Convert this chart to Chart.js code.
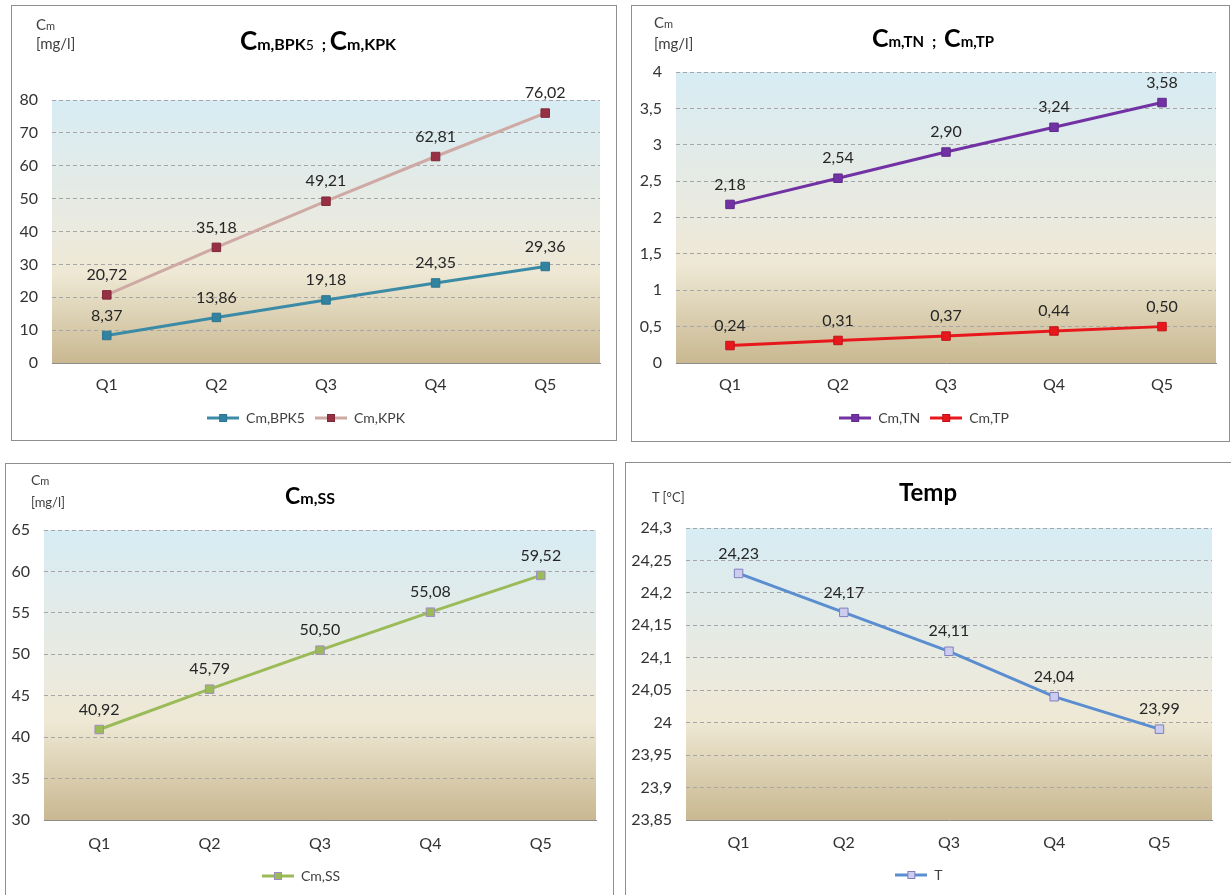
<!DOCTYPE html>
<html>
<head>
<meta charset="utf-8">
<script src="https://cdn.jsdelivr.net/npm/chart.js@4.4.1/dist/chart.umd.min.js"></script>
<style>
body { margin:0; background:#fff; width:1231px; height:895px; overflow:hidden; position:relative; font-family:Lato, sans-serif; }
.box { position:absolute; border:1px solid #8e8e8e; background:#fff; }
.box canvas { position:absolute; left:0; top:0; }
.title { position:absolute; transform:translate(-50%,-50%); font-weight:bold; white-space:nowrap; color:#000; line-height:1; }
.title .c { font-size:26px; }
.title .s { font-size:16px; }
.title .n { font-size:14px; font-weight:normal; }
.unit { position:absolute; font-size:15px; color:#404040; line-height:16px; white-space:nowrap; }
.unit small { font-size:11px; }
</style>
</head>
<body>

<div class="box" style="left:11px;top:5px;width:604px;height:434px"><canvas id="orgChart" width="604" height="434"></canvas></div>
<div class="box" style="left:631px;top:5px;width:597px;height:435px"><canvas id="nutChart" width="597" height="435"></canvas></div>
<div class="box" style="left:5px;top:463px;width:607px;height:436px"><canvas id="ssChart" width="607" height="436"></canvas></div>
<div class="box" style="left:625px;top:462px;width:605px;height:437px"><canvas id="tempChart" width="605" height="437"></canvas></div>

<div class="title" style="left:318px;top:40px"><span class="c">C</span><span class="s">m,BPK</span><span class="n">5</span>&nbsp; ; <span class="c">C</span><span class="s">m,KPK</span></div>
<div class="title" style="left:933px;top:37px"><span class="c" style="font-size:25px">C</span><span class="s" style="font-size:15px">m,TN</span>&nbsp; ;&nbsp; <span class="c" style="font-size:25px">C</span><span class="s" style="font-size:15px">m,TP</span></div>
<div class="title" style="left:310px;top:495px"><span class="c" style="font-size:23px">C</span><span class="s" style="font-size:16px">m,SS</span></div>
<div class="title" style="left:928px;top:492px;font-size:24px">Temp</div>

<div class="unit" style="left:36px;top:16px">C<small>m</small></div>
<div class="unit" style="left:36px;top:35px">[mg/l]</div>
<div class="unit" style="left:654px;top:14px">C<small>m</small></div>
<div class="unit" style="left:654px;top:35px">[mg/l]</div>
<div class="unit" style="left:31px;top:472px;font-size:14px">C<small>m</small></div>
<div class="unit" style="left:31px;top:494px;font-size:13px">[mg/l]</div>
<div class="unit" style="left:652px;top:489px;font-size:13px">T [°C]</div>

<script>
const quarters = ['Q1', 'Q2', 'Q3', 'Q4', 'Q5'];

const bpk5 = [8.37, 13.86, 19.18, 24.35, 29.36];
const kpk = [20.72, 35.18, 49.21, 62.81, 76.02];
const tn = [2.18, 2.54, 2.90, 3.24, 3.58];
const tp = [0.24, 0.31, 0.37, 0.44, 0.50];
const ss = [40.92, 45.79, 50.50, 55.08, 59.52];
const temp = [24.23, 24.17, 24.11, 24.04, 23.99];

// y axis: min, max, step
const axisOrg = [0, 80, 10];
const axisNut = [0, 4, 0.5];
const axisSs = [30, 65, 5];
const axisTemp = [23.85, 24.3, 0.05];

Chart.defaults.font.family = 'Lato, sans-serif';
Chart.defaults.color = '#404040';

// decimal comma, like the original sheet
function tickText(v) {
    return String(parseFloat(v.toFixed(2))).replace('.', ',');
}

// plot area background: light blue on top, sand at the bottom
const plotBg = {
    id: 'plotBg',
    beforeDraw(chart) {
        const { ctx, chartArea: a } = chart;
        const g = ctx.createLinearGradient(0, a.top, 0, a.bottom);
        g.addColorStop(0, '#d7ecf4');
        g.addColorStop(0.5, '#ebeadf');
        g.addColorStop(0.66, '#eee8d4');
        g.addColorStop(1, '#c9b891');
        ctx.save();
        ctx.fillStyle = g;
        ctx.fillRect(a.left, a.top, a.right - a.left, a.bottom - a.top);
        ctx.restore();
    }
};

// value above every marker
const valueLabels = {
    id: 'valueLabels',
    afterDatasetsDraw(chart) {
        const ctx = chart.ctx;
        ctx.save();
        ctx.font = '16px Lato, sans-serif';
        ctx.fillStyle = '#262626';
        ctx.textAlign = 'center';
        ctx.textBaseline = 'middle';
        chart.data.datasets.forEach((ds, i) => {
            chart.getDatasetMeta(i).data.forEach((pt, j) => {
                ctx.fillText(ds.data[j].toFixed(2).replace('.', ','), pt.x, pt.y - 20);
            });
        });
        ctx.restore();
    }
};

// line with a square in the middle, as in the Excel legend
function legendIcon(ds) {
    const c = document.createElement('canvas');
    c.width = 32;
    c.height = 12;
    const x = c.getContext('2d');
    x.strokeStyle = ds.borderColor;
    x.lineWidth = 3;
    x.beginPath();
    x.moveTo(0, 6);
    x.lineTo(32, 6);
    x.stroke();
    x.fillStyle = ds.pointBackgroundColor;
    x.fillRect(12, 2, 8, 8);
    x.strokeStyle = ds.pointBorderColor;
    x.lineWidth = 1;
    x.strokeRect(12.5, 2.5, 7, 7);
    return c;
}

function series(label, data, line, fill, edge) {
    return {
        label: label,
        data: data,
        borderColor: line,
        borderWidth: 3,
        tension: 0,
        pointStyle: 'rect',
        pointRadius: 6,
        pointHoverRadius: 6,
        pointBackgroundColor: fill,
        pointBorderColor: edge,
        pointBorderWidth: 1
    };
}

function drawChart(id, datasets, axis, lay) {
    return new Chart(document.getElementById(id), {
        type: 'line',
        data: { labels: quarters, datasets: datasets },
        options: {
            responsive: false,
            animation: false,
            devicePixelRatio: 1,
            layout: { padding: { top: lay.top, right: lay.right, bottom: lay.bottom, left: 0 } },
            plugins: {
                tooltip: { enabled: false },
                legend: {
                    position: 'bottom',
                    labels: {
                        usePointStyle: true,
                        pointStyleWidth: 32,
                        padding: 10,
                        color: '#404040',
                        font: { size: 14 },
                        generateLabels(chart) {
                            const items = Chart.defaults.plugins.legend.labels.generateLabels(chart);
                            items.forEach(it => {
                                it.pointStyle = legendIcon(chart.data.datasets[it.datasetIndex]);
                            });
                            return items;
                        }
                    }
                }
            },
            scales: {
                x: {
                    offset: true,
                    grid: { display: false, drawTicks: false },
                    border: { display: true, color: '#8c8c8c', width: 1 },
                    ticks: { padding: lay.xpad, font: { size: 16 }, color: '#333' },
                    afterFit(s) { s.height = lay.xh; }
                },
                y: {
                    min: axis[0],
                    max: axis[1],
                    ticks: { stepSize: axis[2], padding: 14, font: { size: 16 }, color: '#333', callback: v => tickText(v) },
                    grid: { color: '#a6a6a6', lineWidth: 1, drawTicks: false },
                    border: { display: false, dash: [4, 3] },
                    afterFit(s) { s.width = lay.yw; }
                }
            }
        },
        plugins: [plotBg, valueLabels]
    });
}

drawChart('orgChart', [
    series('Cm,BPK5', bpk5, '#3c8ba6', '#3283a0', '#2b7590'),
    series('Cm,KPK', kpk, '#cfa9a4', '#983045', '#7f2838')
], axisOrg, { top: 94, right: 16, bottom: 5, yw: 40, xh: 38, xpad: 12 });

drawChart('nutChart', [
    series('Cm,TN', tn, '#7232a4', '#7232a4', '#5e2a8a'),
    series('Cm,TP', tp, '#e8171c', '#e8171c', '#c01418')
], axisNut, { top: 66, right: 13, bottom: 6, yw: 44, xh: 38, xpad: 12 });

drawChart('ssChart', [
    series('Cm,SS', ss, '#9bbb59', '#9bbb59', '#a08cc0')
], axisSs, { top: 66, right: 17, bottom: 7, yw: 38, xh: 39, xpad: 14 });

drawChart('tempChart', [
    series('T', temp, '#5a8ed0', '#ccccee', '#7f7fbf')
], axisTemp, { top: 65, right: 19, bottom: 8, yw: 60, xh: 38, xpad: 13 });
</script>
</body>
</html>
